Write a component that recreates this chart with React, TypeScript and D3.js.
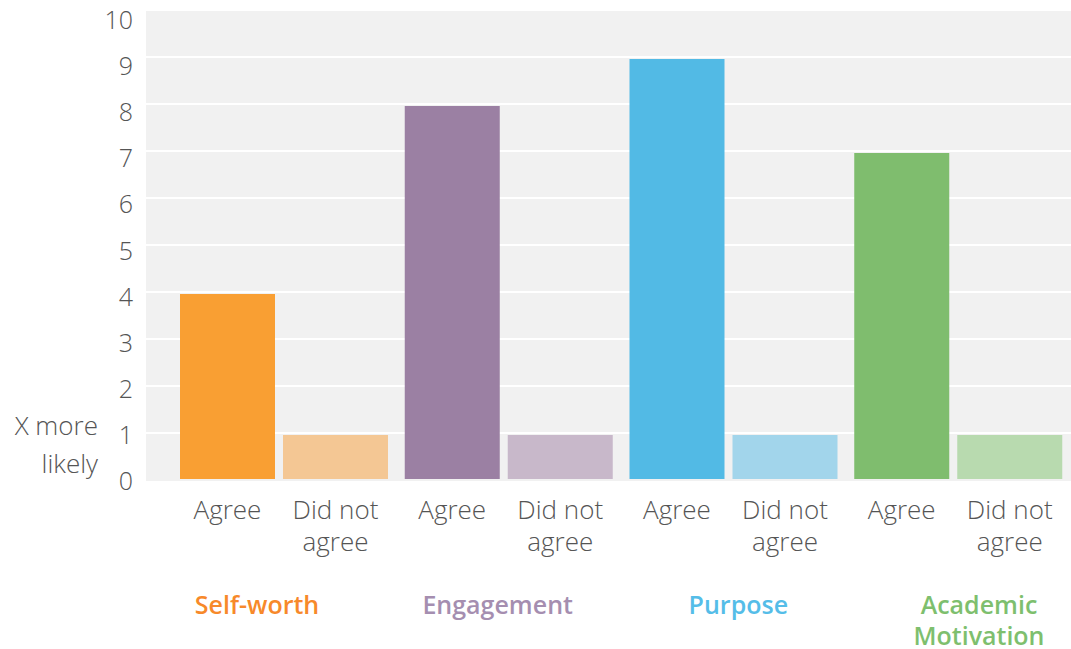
import React from "react";
import * as d3 from "d3";

const categories = ["Self-worth", "Engagement", "Purpose", "Academic Motivation"];
const agreeValues = [4, 8, 9, 7];
const notAgreeValues = [1, 1, 1, 1];
const barLabels = ["Agree", "Did not agree"];
const yTicks = [0, 1, 2, 3, 4, 5, 6, 7, 8, 9, 10];
const axisTitle = ["X more", "likely"];

const strongColors = ["#F99F33", "#9B80A3", "#52BAE5", "#7FBD6E"];
const lightColors = ["#F4C794", "#C8B8CA", "#A2D5EB", "#B8DAAF"];
const labelColors = ["#F7892A", "#A58EB0", "#55BDE8", "#7EBF6E"];

const W = 1071;
const H = 649;
const plotLeft = 146;
const plotRight = 1071;
const plotTop = 10;
const plotBottom = 480;

export default function App() {
  const y = d3.scaleLinear().domain([0, 10]).range([plotBottom, plotTop]);
  const yLabel = d3.scaleLinear().domain([0, 10]).range([480, 19]);
  const groupX = d3.scaleBand<number>().domain(d3.range(categories.length)).range([180, 1079]).paddingInner(0).paddingOuter(0);
  const catX = d3.scalePoint<number>().domain(d3.range(categories.length)).range([257, 979]);
  const agreeW = 95;
  const notW = 105;
  const notOffset = 103;
  const font = "'Open Sans', Lato, sans-serif";
  const textFill = "#555";
  const labelSize = 26;

  return (
    <svg width={W} height={H} style={{ position: "absolute", left: 0, top: 0, background: "#fff" }} fontFamily={font}>
      <rect x={plotLeft} y={plotTop} width={plotRight - plotLeft} height={plotBottom - plotTop + 1} fill="#F1F1F1" />
      {yTicks.slice(1).map((t) => (
        <line key={"g" + t} x1={plotLeft} x2={plotRight} y1={y(t)} y2={y(t)} stroke="#FFFFFF" strokeWidth={2} />
      ))}
      {yTicks.map((t) => (
        <text key={"t" + t} x={133} y={yLabel(t)} textAnchor="end" dominantBaseline="central" fontSize={25} fill={textFill} fontWeight={300}>
          {t}
        </text>
      ))}
      {axisTitle.map((s, i) => (
        <text key={"a" + i} x={98} y={425 + i * 38} textAnchor="end" dominantBaseline="central" fontSize={labelSize} fill={textFill} fontWeight={300}>
          {s}
        </text>
      ))}
      {categories.map((c, i) => {
        const gx = groupX(i) as number;
        return (
          <g key={c}>
            <rect x={gx} y={y(agreeValues[i]) + 2} width={agreeW} height={y(0) - y(agreeValues[i]) - 3} fill={strongColors[i]} />
            <rect x={gx + notOffset} y={y(notAgreeValues[i]) + 2} width={notW} height={y(0) - y(notAgreeValues[i]) - 3} fill={lightColors[i]} />
            <text x={gx + agreeW / 2} y={509} textAnchor="middle" dominantBaseline="central" fontSize={labelSize} fill={textFill} fontWeight={300}>
              {barLabels[0]}
            </text>
            <text textAnchor="middle" fontSize={labelSize} fill={textFill} fontWeight={300}>
              <tspan x={gx + notOffset + notW / 2} y={509} dominantBaseline="central">Did not</tspan>
              <tspan x={gx + notOffset + notW / 2} y={541} dominantBaseline="central">agree</tspan>
            </text>
          </g>
        );
      })}
      {categories.map((c, i) => {
        const words = c === "Academic Motivation" ? ["Academic", "Motivation"] : [c];
        return (
          <text key={"c" + c} textAnchor="middle" fontSize={25} fontWeight={600} fill={labelColors[i]}>
            {words.map((w, j) => (
              <tspan key={w} x={catX(i)} y={604 + j * 31} dominantBaseline="central">
                {w}
              </tspan>
            ))}
          </text>
        );
      })}
    </svg>
  );
}
